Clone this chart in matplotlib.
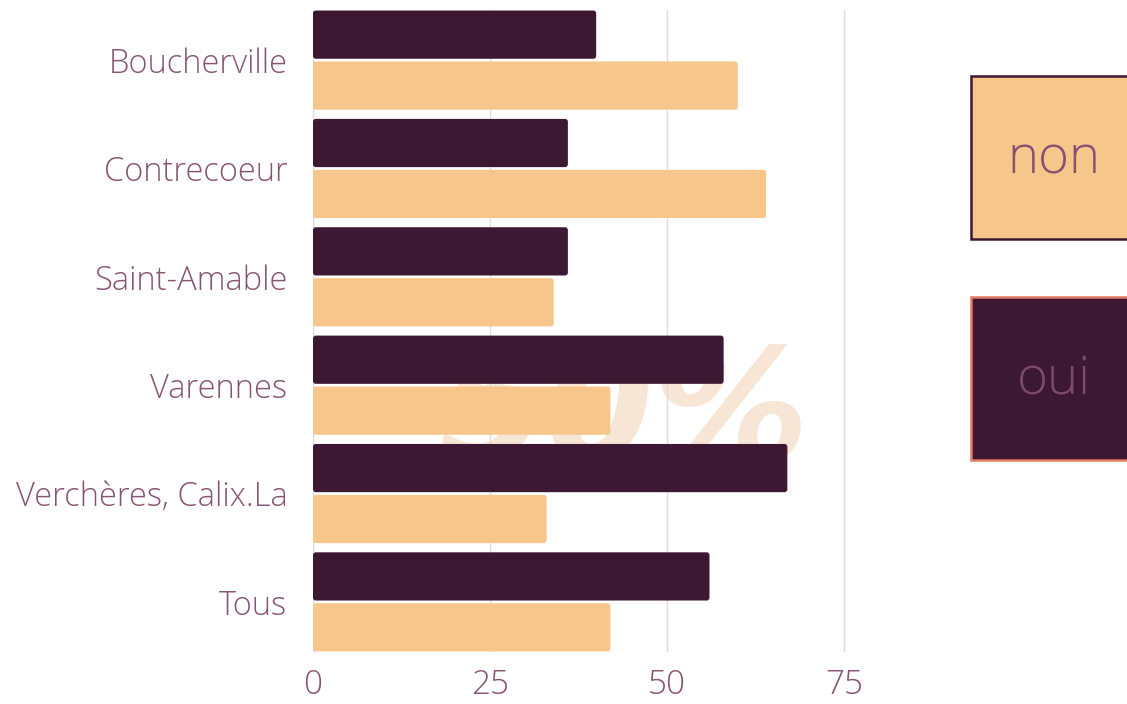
import matplotlib
matplotlib.use("Agg")
import matplotlib.pyplot as plt
from matplotlib.patches import FancyBboxPatch, Rectangle
import numpy as np

categories = ["Boucherville", "Contrecoeur", "Saint-Amable", "Varennes", "Verchères, Calix.La", "Tous"]
oui = [40, 36, 36, 58, 67, 56]
non = [60, 64, 34, 42, 33, 42]
xticks = [0, 25, 50, 75]

DARK = "#3c1832"
PEACH = "#f7c68a"
TEXT = "#875574"
GRID = "#e3dadf"
WATER = "#f7e6d6"
SALMON = "#e07b62"

plt.rcParams['font.family'] = ['Open Sans', 'DejaVu Sans']

XMAX = 75.3
fig = plt.figure(figsize=(11.27, 7.04), dpi=100)
ax = fig.add_axes([313/1127, 1-652/704, (844-313)/1127 * XMAX/75, 642/704])

y = np.arange(len(categories))
h = 0.445
off = 0.235

# watermark
ax.text(44, 3.3, "50%", fontsize=112, color=WATER, fontweight='bold', style='italic',
        ha='center', va='center', zorder=0.5, family='DejaVu Sans')

def rbar(ax, ys, vals, color):
    bars = ax.barh(ys, vals, height=h, color=color, zorder=2)
    for b in bars:
        b.set_visible(False)
        x0, y0 = b.get_x(), b.get_y()
        w, hh = b.get_width(), b.get_height()
        p = FancyBboxPatch((x0, y0), w, hh, boxstyle="round,pad=0,rounding_size=0.4",
                           mutation_aspect=0.067, facecolor=color, edgecolor='none', zorder=2)
        ax.add_patch(p)

rbar(ax, y - off, oui, DARK)
rbar(ax, y + off, non, PEACH)

n = len(categories)
ax.set_ylim(n - 1 + off + h/2 + 0.005, -off - h/2 - 0.005)
ax.set_xlim(0, XMAX)
ax.set_yticks(y)
ax.set_yticklabels(categories, fontsize=23.5, color=TEXT, fontweight='light')
ax.set_xticks(xticks)
ax.set_xticklabels([str(t) for t in xticks], fontsize=24, color=TEXT, fontweight='light')
ax.tick_params(axis='y', length=0, pad=18.5)
ax.tick_params(axis='x', length=0, pad=12)
for s in ax.spines.values():
    s.set_visible(False)
ax.grid(axis='x', color=GRID, linewidth=1, zorder=0)
ax.axvline(0, color=GRID, linewidth=1, zorder=0)
ax.set_axisbelow(True)

# legend boxes
W, H = 1127, 704
def fbox(x0, y0, x1, y1, fc, ec, label, tc, dy):
    r = Rectangle((x0/W, 1-y1/H), (x1-x0)/W, (y1-y0)/H, transform=fig.transFigure,
                  facecolor=fc, edgecolor=ec, linewidth=1.8, zorder=5)
    fig.add_artist(r)
    fig.text(((x0+x1)/2 + 2)/W, 1-((y0+y1)/2 + dy)/H, label, fontsize=38, color=tc,
             ha='center', va='center', fontweight='light', zorder=6)

fbox(971, 76, 1132, 239, PEACH, DARK, "non", "#8a4f73", 2)
fbox(971, 297, 1132, 460, DARK, SALMON, "oui", "#7d4a6c", 2)

fig.savefig("out.png", dpi=100)
